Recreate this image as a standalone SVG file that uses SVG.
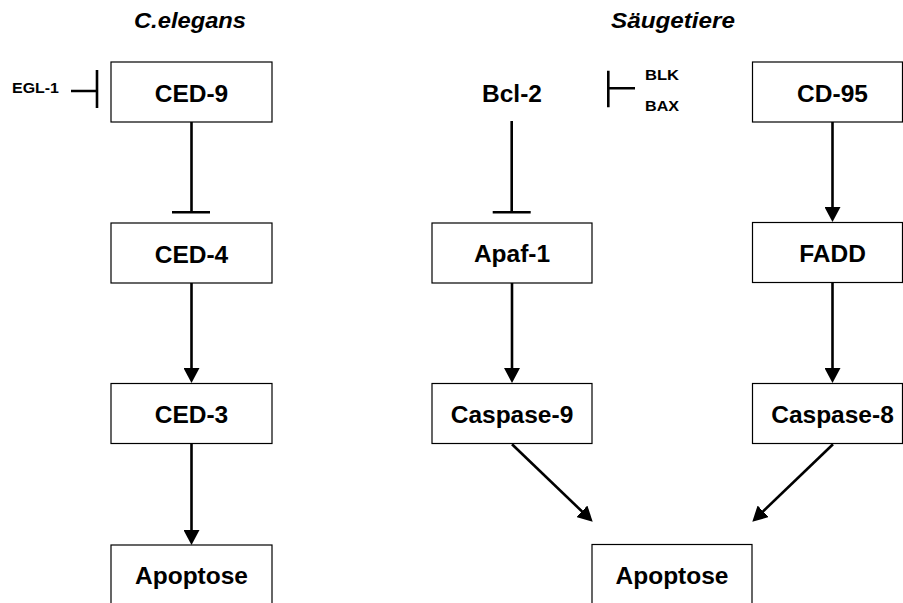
<svg xmlns="http://www.w3.org/2000/svg" width="903" height="603" viewBox="0 0 903 603">
<style>
.box{fill:#fff;stroke:#000;stroke-width:1.2}
.lbl{font-family:"Liberation Sans",Arial,sans-serif;font-weight:bold;font-size:24.5px;fill:#000;text-anchor:middle}
.small{font-family:"Liberation Sans",Arial,sans-serif;font-weight:bold;font-size:15px;fill:#000}
.title{font-family:"Liberation Sans",Arial,sans-serif;font-weight:bold;font-style:italic;font-size:21.5px;fill:#000}
.ln{stroke:#000;stroke-width:2.6;fill:none}
.arr{stroke:#000;stroke-width:2.6;fill:none;marker-end:url(#ah)}
</style>
<defs>
<marker id="ah" markerUnits="userSpaceOnUse" markerWidth="15" markerHeight="16" viewBox="0 0 15 16" refX="11" refY="8" orient="auto">
<path d="M0,0 L15,8 L0,16 z" fill="#000"/>
</marker>
</defs>
<rect width="903" height="603" fill="#fff"/>
<text class="title" x="134" y="27.7" textLength="112" lengthAdjust="spacingAndGlyphs">C.elegans</text>
<text class="title" x="611" y="27.7" textLength="124" lengthAdjust="spacingAndGlyphs">Säugetiere</text>

<g id="egl1"><text class="small" x="12" y="92.7" textLength="47" lengthAdjust="spacingAndGlyphs">EGL-1</text></g>
<g id="blk"><text class="small" x="645" y="80" textLength="34" lengthAdjust="spacingAndGlyphs">BLK</text></g>
<g id="bax"><text class="small" x="645" y="111" textLength="34" lengthAdjust="spacingAndGlyphs">BAX</text></g>

<g id="ced9"><rect class="box" x="111" y="62" width="161" height="60"/><text class="lbl" x="191.5" y="101.7">CED-9</text></g>
<g id="ced4"><rect class="box" x="111" y="223" width="161" height="60"/><text class="lbl" x="191.5" y="262.7">CED-4</text></g>
<g id="ced3"><rect class="box" x="111" y="383.5" width="161" height="60"/><text class="lbl" x="191.5" y="422.7">CED-3</text></g>
<g id="apoptose1"><rect class="box" x="111" y="545" width="161" height="70"/><text class="lbl" x="191.5" y="584">Apoptose</text></g>

<g id="bcl2"><text class="lbl" x="512" y="101.7">Bcl-2</text></g>
<g id="apaf1"><rect class="box" x="432" y="223" width="160" height="60"/><text class="lbl" x="512" y="262">Apaf-1</text></g>
<g id="casp9"><rect class="box" x="432" y="383.5" width="160" height="60"/><text class="lbl" x="512" y="423.3">Caspase-9</text></g>
<g id="apoptose2"><rect class="box" x="592" y="544.5" width="160" height="70"/><text class="lbl" x="672" y="584">Apoptose</text></g>

<g id="cd95"><rect class="box" x="752.5" y="62" width="150" height="60"/><text class="lbl" x="832.5" y="101.7">CD-95</text></g>
<g id="fadd"><rect class="box" x="752.5" y="222.5" width="150" height="60"/><text class="lbl" x="832.5" y="262.3">FADD</text></g>
<g id="casp8"><rect class="box" x="752.5" y="383.5" width="150" height="60"/><text class="lbl" x="832.5" y="423.3">Caspase-8</text></g>

<g id="connectors">
<path class="ln" d="M71,91 H97 M97,70 V108"/>
<path class="ln" d="M635,88.3 H608.3 M608.3,70.7 V107.3"/>
<path class="ln" d="M191.5,122 V212.3 M172,212.3 H210"/>
<path class="ln" d="M511.7,121 V212.3 M492.7,212.3 H530.7"/>
<path class="arr" d="M191.5,283 V379"/>
<path class="arr" d="M191.5,444 V541"/>
<path class="arr" d="M512,283 V379"/>
<path class="arr" d="M832.5,122 V218"/>
<path class="arr" d="M832.5,282.5 V379"/>
<path class="arr" d="M512,444.3 L589.8,518.9"/>
<path class="arr" d="M833,444.3 L755.2,518.9"/>
</g>
</svg>
